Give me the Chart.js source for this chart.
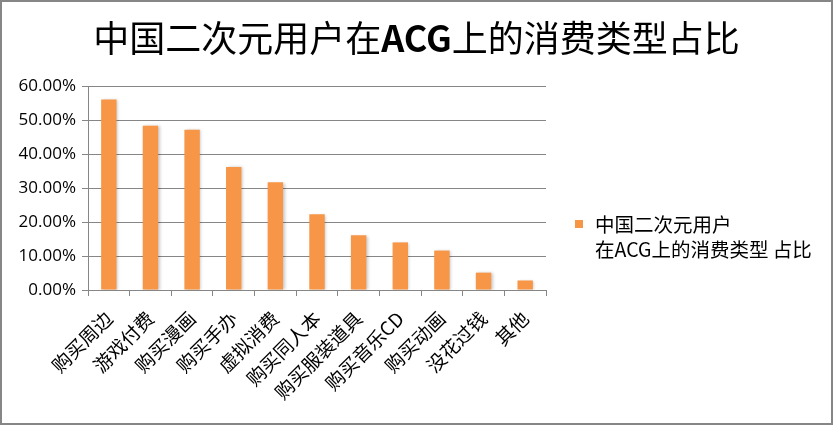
<!DOCTYPE html>
<html>
<head>
<meta charset="utf-8">
<script src="https://cdn.jsdelivr.net/npm/chart.js@4.4.1/dist/chart.umd.min.js"></script>
<style>
  html, body { margin: 0; padding: 0; background: #fff; }
  #wrap { position: relative; width: 833px; height: 425px; }
  #c { position: absolute; left: 0; top: 0; }
  #frame { position: absolute; left: 0; top: 0; width: 833px; height: 425px; box-sizing: border-box; border: 2px solid #868686; pointer-events: none; }
</style>
</head>
<body>
<div id="wrap">
  <canvas id="c" width="833" height="425"></canvas>
  <div id="frame"></div>
</div>
<script>
const titleParts = ['中国二次元用户在', 'ACG', '上的消费类型占比'];
const categories = ['购买周边', '游戏付费', '购买漫画', '购买手办', '虚拟消费', '购买同人本', '购买服装道具', '购买音乐CD', '购买动画', '没花过钱', '其他'];
const shareValues = [56.0, 48.3, 47.1, 36.2, 31.7, 22.3, 16.1, 14.0, 11.6, 5.1, 2.8];
const yTickLabels = ['0.00%', '10.00%', '20.00%', '30.00%', '40.00%', '50.00%', '60.00%'];
const legendLines = ['中国二次元用户', '在ACG上的消费类型 占比'];

const BAR_COLOR = '#F79646';
const GRID_COLOR = '#868686';
const CJK = "'Noto Sans CJK SC', sans-serif";

const barShadow = {
  id: 'barShadow',
  beforeDatasetsDraw(chart) {
    const ctx = chart.ctx;
    ctx.save();
    ctx.shadowColor = 'rgba(0,0,0,0.22)';
    ctx.shadowBlur = 3;
    ctx.shadowOffsetX = 1.5;
    ctx.shadowOffsetY = 0.5;
  },
  afterDatasetsDraw(chart) {
    chart.ctx.restore();
  }
};

const mixedTitle = {
  id: 'mixedTitle',
  afterDraw(chart) {
    const ctx = chart.ctx;
    const fonts = ['normal 36px ' + CJK, 'bold 36px ' + CJK, 'normal 36px ' + CJK];
    ctx.save();
    ctx.fillStyle = '#000';
    ctx.textBaseline = 'middle';
    ctx.textAlign = 'left';
    const widths = titleParts.map((t, i) => { ctx.font = fonts[i]; return ctx.measureText(t).width; });
    const total = widths.reduce((a, b) => a + b, 0);
    let x = chart.width / 2 - total / 2;
    titleParts.forEach((t, i) => {
      ctx.font = fonts[i];
      ctx.fillText(t, x, 38);
      x += widths[i];
    });
    ctx.restore();
  }
};

const sideLegend = {
  id: 'sideLegend',
  afterDraw(chart) {
    const ctx = chart.ctx;
    const x0 = chart.chartArea.right + 29;
    const y0 = 220;
    ctx.save();
    ctx.fillStyle = BAR_COLOR;
    ctx.fillRect(x0, y0, 8, 8);
    ctx.fillStyle = '#000';
    ctx.font = '19.5px ' + CJK;
    ctx.textBaseline = 'middle';
    ctx.textAlign = 'left';
    legendLines.forEach((line, i) => {
      ctx.fillText(line, x0 + 20, y0 + 5 + i * 25);
    });
    ctx.restore();
  }
};

new Chart(document.getElementById('c'), {
  type: 'bar',
  data: {
    labels: categories,
    datasets: [{
      label: legendLines.join(''),
      data: shareValues,
      backgroundColor: BAR_COLOR,
      borderWidth: 0,
      barPercentage: 0.37,
      categoryPercentage: 1.0
    }]
  },
  options: {
    responsive: false,
    animation: false,
    layout: { padding: { left: 0, right: 287, top: 86, bottom: 0 } },
    plugins: {
      legend: { display: false },
      tooltip: { enabled: false },
      title: { display: false }
    },
    scales: {
      x: {
        offset: true,
        grid: {
          display: true,
          drawOnChartArea: false,
          drawTicks: true,
          tickLength: 6,
          tickColor: GRID_COLOR,
          offset: true
        },
        border: { display: true, color: GRID_COLOR, width: 1 },
        ticks: {
          color: '#000',
          font: { family: CJK, size: 19 },
          minRotation: 45,
          maxRotation: 45,
          autoSkip: false,
          padding: 11,
          labelOffset: 0
        },
        afterFit(scale) { scale.height = 135; }
      },
      y: {
        min: 0,
        max: 60,
        ticks: {
          stepSize: 10,
          color: '#000',
          font: { family: "'Open Sans', sans-serif", size: 17 },
          padding: 6,
          callback: (v) => yTickLabels[Math.round(v / 10)]
        },
        grid: {
          color: GRID_COLOR,
          lineWidth: 1,
          drawTicks: true,
          tickLength: 6,
          tickColor: GRID_COLOR
        },
        border: { display: true, color: GRID_COLOR, width: 1 },
        afterFit(scale) { scale.width = 88; }
      }
    }
  },
  plugins: [barShadow, mixedTitle, sideLegend]
});
</script>
</body>
</html>
